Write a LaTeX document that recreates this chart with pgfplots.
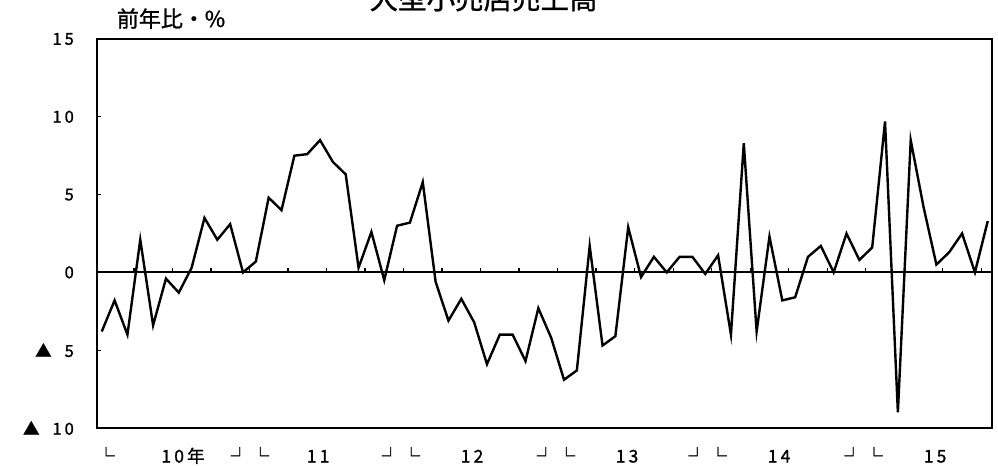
\documentclass[border=0pt]{standalone}
\usepackage{fontspec}
\setmainfont{Noto Sans CJK JP}[FakeBold=1.2]
\newfontfamily\numfont{Noto Sans CJK JP}[FakeBold=1.2, LetterSpace=18]
\usepackage{pgfplots}
\pgfplotsset{compat=1.18}
\pgfplotstableread{
i v
0 -3.8
1 -1.8
2 -4.0
3 2.1
4 -3.4
5 -0.4
6 -1.3
7 0.3
8 3.5
9 2.1
10 3.1
11 0.0
12 0.7
13 4.8
14 4.0
15 7.5
16 7.6
17 8.5
18 7.1
19 6.3
20 0.3
21 2.6
22 -0.5
23 3.0
24 3.2
25 5.8
26 -0.6
27 -3.1
28 -1.7
29 -3.2
30 -5.9
31 -4.0
32 -4.0
33 -5.7
34 -2.3
35 -4.2
36 -6.9
37 -6.3
38 1.7
39 -4.7
40 -4.1
41 2.9
42 -0.3
43 1.0
44 0.0
45 1.0
46 1.0
47 -0.1
48 1.1
49 -4.0
50 8.3
51 -3.8
52 2.3
53 -1.8
54 -1.6
55 1.0
56 1.7
57 0.0
58 2.5
59 0.8
60 1.6
61 9.7
62 -9.0
63 8.5
64 4.2
65 0.5
66 1.3
67 2.5
68 0.0
69 3.3
}\salesdata
\begin{document}
\begin{tikzpicture}
\useasboundingbox (-97bp,-38bp) rectangle (901bp,428bp);
\pgfplotsset{
  base/.style={
    scale only axis, width=895bp, height=389bp,
    xmin=-0.37, xmax=69.33, ymin=-10, ymax=15,
    at={(0,0)}, anchor=south west,
  }
}
% zero line with quarter ticks
\begin{axis}[base,
  axis x line=middle, axis y line=none,
  axis line style={-, line width=1.8bp, black},
  xtick={2.5,5.5,...,68.5}, xticklabels={},
  ytick=\empty,
  tick align=inside, major tick length=4bp,
  x tick style={line width=1.3bp, black},
]
\end{axis}
% main frame and data
\begin{axis}[base,
  axis line style={line width=1.6bp, black},
  ytick={-10,-5,0,5,10,15},
  yticklabels={▲\hspace{13bp}10, ▲\hspace{13bp}5, 0, 5, 10, 15},
  ytick pos=left, tick align=inside, major tick length=4bp,
  y tick style={line width=1.3bp, black},
  xtick={0.33,6.33,11.55,16.85,23.3,28.84,35.38,40.91,47.18,52.75,59.33,64.9},
  xticklabels={└,10年,┘└,11,┘└,12,┘└,13,┘└,14,┘└,15},
  x tick style={draw=none},
  xticklabel style={anchor=base, yshift=-34.5bp, inner sep=0pt, font=\numfont\fontsize{17.5bp}{20bp}\selectfont},
  yticklabel style={anchor=east, xshift=-23bp, inner sep=0pt, font=\numfont\fontsize{16.5bp}{18bp}\selectfont},
  title={大型小売店売上高},
  title style={at={(axis description cs:0.432,1)}, anchor=base, yshift=24bp, inner sep=0pt, font=\fontsize{28.5bp}{32bp}\selectfont},
  ylabel={前年比・\%},
  ylabel style={rotate=-90, at={(axis description cs:0.0827,1)}, anchor=base, yshift=12bp, inner sep=0pt, font=\fontsize{22bp}{25bp}\selectfont},
]
\addplot[black, line width=2.4bp, mark=none] table[x=i, y=v] {\salesdata};
\end{axis}
\end{tikzpicture}
\end{document}
